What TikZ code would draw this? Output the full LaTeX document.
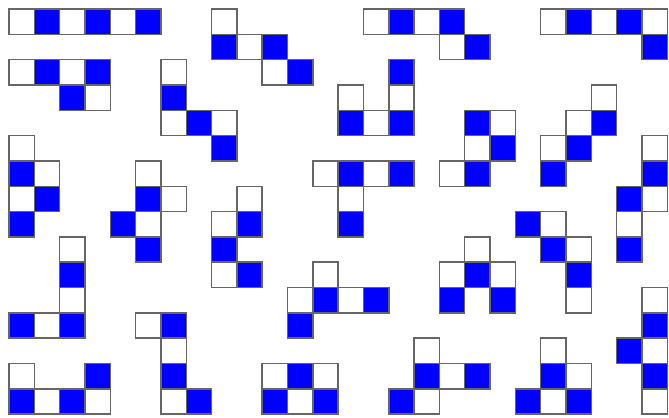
\documentclass[tikz,border=0pt]{standalone}
\begin{document}
\begin{tikzpicture}[x=1cm,y=1cm,
  cellw/.style={draw=black!60,line width=1.6pt,fill=white},
  cellb/.style={draw=black!60,line width=1.6pt,fill=blue}]
\useasboundingbox[fill=white] (-0.355,0.355) rectangle (26.067,-16.115);
% blue cells
\foreach \c/\r in {1/0,3/0,5/0, 8/1,10/1,11/2, 15/0,17/0,18/1, 22/0,24/0,25/1,
  1/2,3/2,2/3, 6/3,7/4,8/5, 15/2,13/4,15/4, 18/4,19/5,18/6, 23/4,22/5,21/6,
  25/6,24/7,24/9, 0/6,1/7,0/8, 5/7,4/8,5/9, 9/8,8/9,9/10, 13/6,15/6,13/8,
  20/8,21/9,22/10, 18/10,17/11,19/11, 2/10,0/12,2/12, 6/12,6/14,7/15,
  12/11,14/11,11/12, 3/14,0/15,2/15, 11/14,10/15,12/15, 16/14,18/14,15/15,
  21/14,20/15,22/15, 25/12,24/13,25/14}
  \draw[cellb] (\c,-\r) rectangle ++(1,-1);
% white cells
\foreach \c/\r in {0/0,2/0,4/0, 8/0,9/1,10/2, 14/0,16/0,17/1, 21/0,23/0,25/0,
  0/2,2/2,3/3, 6/2,6/4,8/4, 13/3,15/3,14/4, 19/4,18/5,17/6, 23/3,22/4,21/5,
  25/5,25/7,24/8, 0/5,1/6,0/7, 5/6,6/7,5/8, 9/7,8/8,8/10, 12/6,14/6,13/7,
  21/8,22/9,22/11, 18/9,17/10,19/10, 2/9,2/11,1/12, 5/12,6/13,6/15,
  12/10,11/11,13/11, 0/14,1/15,3/15, 10/14,12/14,11/15, 16/13,17/14,16/15,
  21/13,22/14,21/15, 25/11,25/13,25/15}
  \draw[cellw] (\c,-\r) rectangle ++(1,-1);
\end{tikzpicture}
\end{document}
